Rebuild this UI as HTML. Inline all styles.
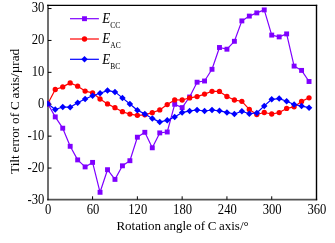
<!DOCTYPE html>
<html><head><meta charset="utf-8"><title>Tilt error of C axis</title>
<style>
html,body{margin:0;padding:0;background:#fff;}
svg{display:block}
svg{will-change:transform}
.t{font-family:"Liberation Serif",serif;font-size:14.2px;fill:#000}
.s{font-family:"Liberation Serif",serif;font-size:7.3px;fill:#000}
</style></head><body>
<svg width="335" height="243" viewBox="0 0 335 243">
<defs><clipPath id="pc"><rect x="47.1" y="5" width="270" height="195.4"/></clipPath></defs>
<rect width="335" height="243" fill="#fff"/>
<line x1="47.1" y1="5.4" x2="317.2" y2="5.4" stroke="#000" stroke-width="1.2"/>
<line x1="316.5" y1="4.8" x2="316.5" y2="200.2" stroke="#000" stroke-width="1.4"/>
<line x1="48" y1="4.8" x2="48" y2="200.3" stroke="#000" stroke-width="1.5" stroke-opacity="0.75"/>
<line x1="47.2" y1="199.65" x2="317.2" y2="199.65" stroke="#000" stroke-width="1.6" stroke-opacity="0.68"/>
<line x1="48" y1="8.55" x2="51.5" y2="8.55" stroke="#000" stroke-width="1"/>
<text transform="translate(44.3 12.35) scale(0.89 1)" text-anchor="end" class="t">30</text>
<line x1="48" y1="40.45" x2="51.5" y2="40.45" stroke="#000" stroke-width="1"/>
<text transform="translate(44.3 44.25) scale(0.89 1)" text-anchor="end" class="t">20</text>
<line x1="48" y1="72.35" x2="51.5" y2="72.35" stroke="#000" stroke-width="1"/>
<text transform="translate(44.3 76.15) scale(0.89 1)" text-anchor="end" class="t">10</text>
<line x1="48" y1="104.25" x2="51.5" y2="104.25" stroke="#000" stroke-width="1"/>
<text transform="translate(44.3 108.05) scale(0.89 1)" text-anchor="end" class="t">0</text>
<line x1="48" y1="136.15" x2="51.5" y2="136.15" stroke="#000" stroke-width="1"/>
<text transform="translate(44.3 139.95) scale(0.89 1)" text-anchor="end" class="t">-10</text>
<line x1="48" y1="168.05" x2="51.5" y2="168.05" stroke="#000" stroke-width="1"/>
<text transform="translate(44.3 171.85) scale(0.89 1)" text-anchor="end" class="t">-20</text>
<text transform="translate(44.3 203.65) scale(0.89 1)" text-anchor="end" class="t">-30</text>
<text transform="translate(48.20 213.5) scale(0.89 1)" text-anchor="middle" class="t">0</text>
<line x1="92.58" y1="196.3" x2="92.58" y2="199.6" stroke="#000" stroke-width="1"/>
<text transform="translate(92.98 213.5) scale(0.89 1)" text-anchor="middle" class="t">60</text>
<line x1="137.37" y1="196.3" x2="137.37" y2="199.6" stroke="#000" stroke-width="1"/>
<text transform="translate(137.77 213.5) scale(0.89 1)" text-anchor="middle" class="t">120</text>
<line x1="182.15" y1="196.3" x2="182.15" y2="199.6" stroke="#000" stroke-width="1"/>
<text transform="translate(182.55 213.5) scale(0.89 1)" text-anchor="middle" class="t">180</text>
<line x1="226.93" y1="196.3" x2="226.93" y2="199.6" stroke="#000" stroke-width="1"/>
<text transform="translate(227.33 213.5) scale(0.89 1)" text-anchor="middle" class="t">240</text>
<line x1="271.72" y1="196.3" x2="271.72" y2="199.6" stroke="#000" stroke-width="1"/>
<text transform="translate(272.12 213.5) scale(0.89 1)" text-anchor="middle" class="t">300</text>
<text transform="translate(316.90 213.5) scale(0.89 1)" text-anchor="middle" class="t">360</text>
<g clip-path="url(#pc)">
<polyline points="47.80,103.80 55.26,116.90 62.73,128.20 70.19,146.30 77.66,159.90 85.12,166.90 92.58,162.40 100.05,192.30 107.51,169.70 114.97,179.40 122.44,165.80 129.90,160.70 137.37,137.20 144.83,132.30 152.29,147.80 159.76,132.90 167.22,132.00 174.69,104.30 182.15,107.60 189.61,97.00 197.08,82.20 204.54,81.00 212.01,69.30 219.47,47.50 226.93,49.20 234.40,41.30 241.86,20.90 249.32,16.10 256.79,12.90 264.25,9.90 271.72,35.10 279.18,36.90 286.64,33.90 294.11,66.10 301.57,70.40 309.04,81.50" fill="none" stroke="#7f00ff" stroke-width="1.2" stroke-linejoin="round"/>
<rect x="45.35" y="101.35" width="4.9" height="4.9" fill="#7f00ff"/>
<rect x="52.81" y="114.45" width="4.9" height="4.9" fill="#7f00ff"/>
<rect x="60.28" y="125.75" width="4.9" height="4.9" fill="#7f00ff"/>
<rect x="67.74" y="143.85" width="4.9" height="4.9" fill="#7f00ff"/>
<rect x="75.21" y="157.45" width="4.9" height="4.9" fill="#7f00ff"/>
<rect x="82.67" y="164.45" width="4.9" height="4.9" fill="#7f00ff"/>
<rect x="90.13" y="159.95" width="4.9" height="4.9" fill="#7f00ff"/>
<rect x="97.60" y="189.85" width="4.9" height="4.9" fill="#7f00ff"/>
<rect x="105.06" y="167.25" width="4.9" height="4.9" fill="#7f00ff"/>
<rect x="112.52" y="176.95" width="4.9" height="4.9" fill="#7f00ff"/>
<rect x="119.99" y="163.35" width="4.9" height="4.9" fill="#7f00ff"/>
<rect x="127.45" y="158.25" width="4.9" height="4.9" fill="#7f00ff"/>
<rect x="134.92" y="134.75" width="4.9" height="4.9" fill="#7f00ff"/>
<rect x="142.38" y="129.85" width="4.9" height="4.9" fill="#7f00ff"/>
<rect x="149.84" y="145.35" width="4.9" height="4.9" fill="#7f00ff"/>
<rect x="157.31" y="130.45" width="4.9" height="4.9" fill="#7f00ff"/>
<rect x="164.77" y="129.55" width="4.9" height="4.9" fill="#7f00ff"/>
<rect x="172.24" y="101.85" width="4.9" height="4.9" fill="#7f00ff"/>
<rect x="179.70" y="105.15" width="4.9" height="4.9" fill="#7f00ff"/>
<rect x="187.16" y="94.55" width="4.9" height="4.9" fill="#7f00ff"/>
<rect x="194.63" y="79.75" width="4.9" height="4.9" fill="#7f00ff"/>
<rect x="202.09" y="78.55" width="4.9" height="4.9" fill="#7f00ff"/>
<rect x="209.56" y="66.85" width="4.9" height="4.9" fill="#7f00ff"/>
<rect x="217.02" y="45.05" width="4.9" height="4.9" fill="#7f00ff"/>
<rect x="224.48" y="46.75" width="4.9" height="4.9" fill="#7f00ff"/>
<rect x="231.95" y="38.85" width="4.9" height="4.9" fill="#7f00ff"/>
<rect x="239.41" y="18.45" width="4.9" height="4.9" fill="#7f00ff"/>
<rect x="246.88" y="13.65" width="4.9" height="4.9" fill="#7f00ff"/>
<rect x="254.34" y="10.45" width="4.9" height="4.9" fill="#7f00ff"/>
<rect x="261.80" y="7.45" width="4.9" height="4.9" fill="#7f00ff"/>
<rect x="269.27" y="32.65" width="4.9" height="4.9" fill="#7f00ff"/>
<rect x="276.73" y="34.45" width="4.9" height="4.9" fill="#7f00ff"/>
<rect x="284.19" y="31.45" width="4.9" height="4.9" fill="#7f00ff"/>
<rect x="291.66" y="63.65" width="4.9" height="4.9" fill="#7f00ff"/>
<rect x="299.12" y="67.95" width="4.9" height="4.9" fill="#7f00ff"/>
<rect x="306.59" y="79.05" width="4.9" height="4.9" fill="#7f00ff"/>
<polyline points="47.80,103.80 55.26,89.50 62.73,86.90 70.19,82.90 77.66,86.20 85.12,91.10 92.58,92.80 100.05,99.00 107.51,103.90 114.97,107.70 122.44,111.70 129.90,114.10 137.37,115.30 144.83,114.80 152.29,112.70 159.76,109.90 167.22,104.60 174.69,99.90 182.15,100.00 189.61,97.90 197.08,96.60 204.54,94.10 212.01,91.30 219.47,91.40 226.93,96.50 234.40,100.00 241.86,101.30 249.32,109.40 256.79,114.50 264.25,112.50 271.72,114.00 279.18,112.60 286.64,108.40 294.11,106.80 301.57,101.40 309.04,97.80" fill="none" stroke="#ff0000" stroke-width="1.2" stroke-linejoin="round"/>
<circle cx="47.80" cy="103.80" r="2.65" fill="#ff0000"/>
<circle cx="55.26" cy="89.50" r="2.65" fill="#ff0000"/>
<circle cx="62.73" cy="86.90" r="2.65" fill="#ff0000"/>
<circle cx="70.19" cy="82.90" r="2.65" fill="#ff0000"/>
<circle cx="77.66" cy="86.20" r="2.65" fill="#ff0000"/>
<circle cx="85.12" cy="91.10" r="2.65" fill="#ff0000"/>
<circle cx="92.58" cy="92.80" r="2.65" fill="#ff0000"/>
<circle cx="100.05" cy="99.00" r="2.65" fill="#ff0000"/>
<circle cx="107.51" cy="103.90" r="2.65" fill="#ff0000"/>
<circle cx="114.97" cy="107.70" r="2.65" fill="#ff0000"/>
<circle cx="122.44" cy="111.70" r="2.65" fill="#ff0000"/>
<circle cx="129.90" cy="114.10" r="2.65" fill="#ff0000"/>
<circle cx="137.37" cy="115.30" r="2.65" fill="#ff0000"/>
<circle cx="144.83" cy="114.80" r="2.65" fill="#ff0000"/>
<circle cx="152.29" cy="112.70" r="2.65" fill="#ff0000"/>
<circle cx="159.76" cy="109.90" r="2.65" fill="#ff0000"/>
<circle cx="167.22" cy="104.60" r="2.65" fill="#ff0000"/>
<circle cx="174.69" cy="99.90" r="2.65" fill="#ff0000"/>
<circle cx="182.15" cy="100.00" r="2.65" fill="#ff0000"/>
<circle cx="189.61" cy="97.90" r="2.65" fill="#ff0000"/>
<circle cx="197.08" cy="96.60" r="2.65" fill="#ff0000"/>
<circle cx="204.54" cy="94.10" r="2.65" fill="#ff0000"/>
<circle cx="212.01" cy="91.30" r="2.65" fill="#ff0000"/>
<circle cx="219.47" cy="91.40" r="2.65" fill="#ff0000"/>
<circle cx="226.93" cy="96.50" r="2.65" fill="#ff0000"/>
<circle cx="234.40" cy="100.00" r="2.65" fill="#ff0000"/>
<circle cx="241.86" cy="101.30" r="2.65" fill="#ff0000"/>
<circle cx="249.32" cy="109.40" r="2.65" fill="#ff0000"/>
<circle cx="256.79" cy="114.50" r="2.65" fill="#ff0000"/>
<circle cx="264.25" cy="112.50" r="2.65" fill="#ff0000"/>
<circle cx="271.72" cy="114.00" r="2.65" fill="#ff0000"/>
<circle cx="279.18" cy="112.60" r="2.65" fill="#ff0000"/>
<circle cx="286.64" cy="108.40" r="2.65" fill="#ff0000"/>
<circle cx="294.11" cy="106.80" r="2.65" fill="#ff0000"/>
<circle cx="301.57" cy="101.40" r="2.65" fill="#ff0000"/>
<circle cx="309.04" cy="97.80" r="2.65" fill="#ff0000"/>
<polyline points="47.80,103.80 55.26,109.50 62.73,107.00 70.19,107.20 77.66,102.80 85.12,99.00 92.58,95.70 100.05,93.20 107.51,90.60 114.97,91.90 122.44,97.90 129.90,104.00 137.37,110.20 144.83,113.90 152.29,118.40 159.76,122.10 167.22,120.20 174.69,117.00 182.15,112.60 189.61,110.90 197.08,110.00 204.54,111.00 212.01,110.00 219.47,110.80 226.93,112.40 234.40,114.00 241.86,111.30 249.32,113.70 256.79,113.00 264.25,105.90 271.72,99.30 279.18,98.60 286.64,101.20 294.11,104.50 301.57,106.10 309.04,107.70" fill="none" stroke="#0000ff" stroke-width="1.2" stroke-linejoin="round"/>
<path d="M44.55 103.80L47.80 100.55L51.05 103.80L47.80 107.05Z" fill="#0000ff"/>
<path d="M52.01 109.50L55.26 106.25L58.51 109.50L55.26 112.75Z" fill="#0000ff"/>
<path d="M59.48 107.00L62.73 103.75L65.98 107.00L62.73 110.25Z" fill="#0000ff"/>
<path d="M66.94 107.20L70.19 103.95L73.44 107.20L70.19 110.45Z" fill="#0000ff"/>
<path d="M74.41 102.80L77.66 99.55L80.91 102.80L77.66 106.05Z" fill="#0000ff"/>
<path d="M81.87 99.00L85.12 95.75L88.37 99.00L85.12 102.25Z" fill="#0000ff"/>
<path d="M89.33 95.70L92.58 92.45L95.83 95.70L92.58 98.95Z" fill="#0000ff"/>
<path d="M96.80 93.20L100.05 89.95L103.30 93.20L100.05 96.45Z" fill="#0000ff"/>
<path d="M104.26 90.60L107.51 87.35L110.76 90.60L107.51 93.85Z" fill="#0000ff"/>
<path d="M111.72 91.90L114.97 88.65L118.22 91.90L114.97 95.15Z" fill="#0000ff"/>
<path d="M119.19 97.90L122.44 94.65L125.69 97.90L122.44 101.15Z" fill="#0000ff"/>
<path d="M126.65 104.00L129.90 100.75L133.15 104.00L129.90 107.25Z" fill="#0000ff"/>
<path d="M134.12 110.20L137.37 106.95L140.62 110.20L137.37 113.45Z" fill="#0000ff"/>
<path d="M141.58 113.90L144.83 110.65L148.08 113.90L144.83 117.15Z" fill="#0000ff"/>
<path d="M149.04 118.40L152.29 115.15L155.54 118.40L152.29 121.65Z" fill="#0000ff"/>
<path d="M156.51 122.10L159.76 118.85L163.01 122.10L159.76 125.35Z" fill="#0000ff"/>
<path d="M163.97 120.20L167.22 116.95L170.47 120.20L167.22 123.45Z" fill="#0000ff"/>
<path d="M171.44 117.00L174.69 113.75L177.94 117.00L174.69 120.25Z" fill="#0000ff"/>
<path d="M178.90 112.60L182.15 109.35L185.40 112.60L182.15 115.85Z" fill="#0000ff"/>
<path d="M186.36 110.90L189.61 107.65L192.86 110.90L189.61 114.15Z" fill="#0000ff"/>
<path d="M193.83 110.00L197.08 106.75L200.33 110.00L197.08 113.25Z" fill="#0000ff"/>
<path d="M201.29 111.00L204.54 107.75L207.79 111.00L204.54 114.25Z" fill="#0000ff"/>
<path d="M208.76 110.00L212.01 106.75L215.26 110.00L212.01 113.25Z" fill="#0000ff"/>
<path d="M216.22 110.80L219.47 107.55L222.72 110.80L219.47 114.05Z" fill="#0000ff"/>
<path d="M223.68 112.40L226.93 109.15L230.18 112.40L226.93 115.65Z" fill="#0000ff"/>
<path d="M231.15 114.00L234.40 110.75L237.65 114.00L234.40 117.25Z" fill="#0000ff"/>
<path d="M238.61 111.30L241.86 108.05L245.11 111.30L241.86 114.55Z" fill="#0000ff"/>
<path d="M246.07 113.70L249.32 110.45L252.57 113.70L249.32 116.95Z" fill="#0000ff"/>
<path d="M253.54 113.00L256.79 109.75L260.04 113.00L256.79 116.25Z" fill="#0000ff"/>
<path d="M261.00 105.90L264.25 102.65L267.50 105.90L264.25 109.15Z" fill="#0000ff"/>
<path d="M268.47 99.30L271.72 96.05L274.97 99.30L271.72 102.55Z" fill="#0000ff"/>
<path d="M275.93 98.60L279.18 95.35L282.43 98.60L279.18 101.85Z" fill="#0000ff"/>
<path d="M283.39 101.20L286.64 97.95L289.89 101.20L286.64 104.45Z" fill="#0000ff"/>
<path d="M290.86 104.50L294.11 101.25L297.36 104.50L294.11 107.75Z" fill="#0000ff"/>
<path d="M298.32 106.10L301.57 102.85L304.82 106.10L301.57 109.35Z" fill="#0000ff"/>
<path d="M305.79 107.70L309.04 104.45L312.29 107.70L309.04 110.95Z" fill="#0000ff"/>
</g>
<text x="116.4" y="229.7" class="t" style="font-size:13.5px;word-spacing:-0.7px" textLength="132.3" lengthAdjust="spacingAndGlyphs">Rotation angle of C axis/°</text>
<text transform="translate(19 174) rotate(-90)" class="t" style="font-size:13.5px;word-spacing:-0.5px" textLength="125.2" lengthAdjust="spacingAndGlyphs">Tilt error of C axis/µrad</text>
<line x1="70" y1="18.70" x2="98.9" y2="18.70" stroke="#7f00ff" stroke-width="1.2"/>
<rect x="82.05" y="16.25" width="4.9" height="4.9" fill="#7f00ff"/>
<text transform="translate(102.3 23.10) scale(0.95 1)" class="t" style="font-style:italic;font-size:13.8px">E</text>
<text transform="translate(110.3 28.00) scale(1.02 1)" class="s">CC</text>
<line x1="70" y1="39.00" x2="98.9" y2="39.00" stroke="#ff0000" stroke-width="1.2"/>
<circle cx="84.50" cy="39.00" r="2.65" fill="#ff0000"/>
<text transform="translate(102.3 43.40) scale(0.95 1)" class="t" style="font-style:italic;font-size:13.8px">E</text>
<text transform="translate(110.3 48.30) scale(1.02 1)" class="s">AC</text>
<line x1="70" y1="59.30" x2="98.9" y2="59.30" stroke="#0000ff" stroke-width="1.2"/>
<path d="M81.25 59.30L84.50 56.05L87.75 59.30L84.50 62.55Z" fill="#0000ff"/>
<text transform="translate(102.3 63.70) scale(0.95 1)" class="t" style="font-style:italic;font-size:13.8px">E</text>
<text transform="translate(110.3 68.60) scale(1.02 1)" class="s">BC</text>
</svg>
</body></html>
